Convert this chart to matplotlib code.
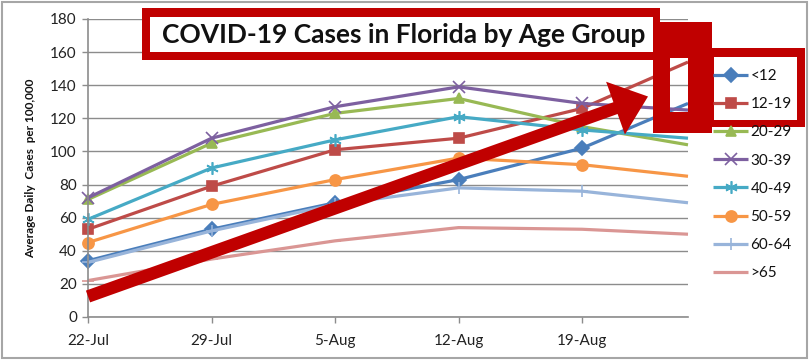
import numpy as np
import matplotlib
matplotlib.use("Agg")
import matplotlib.pyplot as plt
from matplotlib.patches import Rectangle, FancyArrow

plt.rcParams["font.family"] = ["Lato", "DejaVu Sans"]

# data (average daily cases per 100,000)
dates = np.array(["2020-07-22", "2020-07-29", "2020-08-05", "2020-08-12",
                  "2020-08-19", "2020-08-25"], dtype="datetime64[D]")
tick_labels = ["22-Jul", "29-Jul", "5-Aug", "12-Aug", "19-Aug"]
groups = ["<12", "12-19", "20-29", "30-39", "40-49", "50-59", "60-64", ">65"]

under_12 = [34, 53, 69, 83, 102, 129]
age_12_19 = [53, 79, 101, 108, 126, 154]
age_20_29 = [71, 105, 123, 132, 115, 104]
age_30_39 = [72, 108, 127, 139, 129, 125]
age_40_49 = [59, 90, 107, 121, 113, 108]
age_50_59 = [45, 68, 83, 96, 92, 85]
age_60_64 = [33, 52, 68, 78, 76, 69]
over_65 = [22, 35, 46, 54, 53, 50]

series = [under_12, age_12_19, age_20_29, age_30_39,
          age_40_49, age_50_59, age_60_64, over_65]
colors = ["#4A7EBB", "#BE4B48", "#98B954", "#7D60A0",
          "#46AAC5", "#F79646", "#98B4DA", "#DA9694"]
markers = ["D", "s", "^", "x", (6, 2, 0), "o", "+", "_"]
msizes = [7, 6.5, 7.5, 8, 9, 8, 9, 8]

W, H = 810, 361
fig = plt.figure(figsize=(W / 100, H / 100), dpi=100)
ax = fig.add_axes([88 / W, (H - 317) / H, 600 / W, 298 / H])

grid_c = "#8C8C8C"
for vals, col, mk, ms, lab in zip(series, colors, markers, msizes, groups):
    ax.plot(dates, vals, color=col, lw=2.3, marker=mk, ms=ms,
            mew=1.2, markevery=slice(0, 5), label=lab, clip_on=False,
            solid_capstyle="butt")

ax.set_ylim(0, 180)
ax.set_yticks(np.arange(0, 181, 20))
ax.set_xlim(dates[0], dates[-1])
ax.set_xticks(dates[:5])
ax.set_xticklabels(tick_labels)
ax.grid(axis="y", color=grid_c, lw=1)
ax.set_axisbelow(True)
for s in ["top", "right"]:
    ax.spines[s].set_visible(False)
for s in ["left", "bottom"]:
    ax.spines[s].set_color(grid_c)
    ax.spines[s].set_linewidth(1.2)
ax.tick_params(colors=grid_c, labelcolor="#222222", labelsize=11,
               length=4.5, width=1)
ax.tick_params(axis="x", pad=8)
ax.set_ylabel("Average Daily  Cases  per 100,000", fontsize=8.5,
              fontweight="bold", color="#111111", labelpad=10)

leg = fig.legend(loc="upper left", bbox_to_anchor=(713 / W, 1 - 69 / H),
                 frameon=False, fontsize=11, numpoints=1, handlelength=2.3,
                 handletextpad=0.15, labelspacing=0.93, borderpad=0,
                 borderaxespad=0)
for t in leg.get_texts():
    t.set_color("#111111")

# overlay in pixel coordinates for the red annotations
ov = fig.add_axes([0, 0, 1, 1])
ov.set_xlim(0, W)
ov.set_ylim(H, 0)
ov.axis("off")
ov.patch.set_alpha(0)

red = "#C00000"
ov.add_patch(Rectangle((2, 2), W - 5, H - 5, fill=False, ec="#A6A6A6", lw=1.5))


def frame(x0, y0, x1, y1, left, top, right, bottom, fill=None):
    if fill:
        ov.add_patch(Rectangle((x0, y0), x1 - x0, y1 - y0, fc=fill, ec="none"))
    ov.add_patch(Rectangle((x0, y0), left, y1 - y0, fc=red, ec="none"))
    ov.add_patch(Rectangle((x1 - right, y0), right, y1 - y0, fc=red, ec="none"))
    ov.add_patch(Rectangle((x0, y0), x1 - x0, top, fc=red, ec="none"))
    ov.add_patch(Rectangle((x0, y1 - bottom), x1 - x0, bottom, fc=red, ec="none"))


frame(142, 8, 660, 60, 8, 9, 7, 8, fill="white")
ov.text(404, 35, "COVID-19 Cases in Florida by Age Group", fontsize=19,
        fontweight="bold", ha="center", va="center", color="#111111")
frame(653, 22, 712, 133, 17, 36, 24, 21)
frame(712, 48, 805, 127, 2, 9, 8, 7)

ov.add_patch(FancyArrow(88, 296.5, 560, -200, width=12.5, head_width=56,
                        head_length=34.5, length_includes_head=True,
                        fc=red, ec="none"))

fig.savefig("out.png", dpi=100)
